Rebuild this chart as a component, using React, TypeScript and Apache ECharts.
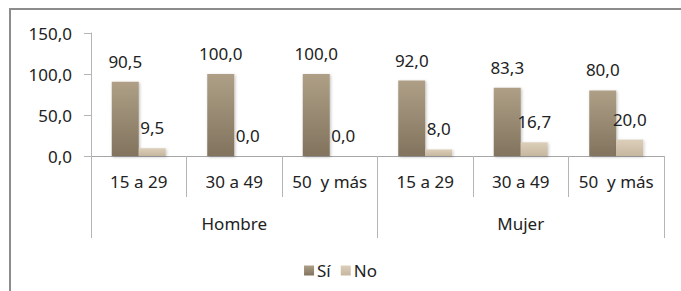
import React, { useEffect, useRef } from "react";
import * as echarts from "echarts";

const categories = ["15 a 29", "30 a 49", "50  y más", "15 a 29", "30 a 49", "50  y más"];
const groups = ["Hombre", "Mujer"];
const siValues = [90.5, 100.0, 100.0, 92.0, 83.3, 80.0];
const noValues = [9.5, 0.0, 0.0, 8.0, 16.7, 20.0];
const seriesNames = ["Sí", "No"];

const FONT = "Noto Sans";
const FS = 17;
const fmt = (v: number) => v.toFixed(1).replace(".", ",");

export default function App() {
  const ref = useRef<HTMLDivElement>(null);
  useEffect(() => {
    if (!ref.current) return;
    const chart = echarts.init(ref.current, undefined, { renderer: "svg" });
    const siColor = new echarts.graphic.LinearGradient(0, 0, 0, 1, [
      { offset: 0, color: "#ae9f86" },
      { offset: 1, color: "#82735e" },
    ]);
    const noColor = new echarts.graphic.LinearGradient(0, 0, 0, 1, [
      { offset: 0, color: "#dccfb9" },
      { offset: 1, color: "#c6b79f" },
    ]);
    const labelStyle = {
      show: true,
      position: "top" as const,
      distance: 12,
      fontFamily: FONT,
      fontSize: FS,
      color: "#222",
      formatter: (p: any) => fmt(p.value),
    };
    chart.setOption({
      animation: false,
      backgroundColor: "#fff",
      textStyle: { fontFamily: FONT },
      graphic: [
        {
          type: "rect",
          shape: { x: 10, y: 9, width: 720, height: 320 },
          style: { fill: "none", stroke: "#8c8c8c", lineWidth: 2 },
          silent: true,
        },
      ],
      legend: {
        data: seriesNames,
        left: "center",
        top: 257,
        itemWidth: 10,
        itemHeight: 10,
        itemGap: 10,
        icon: "rect",
        textStyle: { fontFamily: FONT, fontSize: FS, color: "#222", padding: [0, 0, 0, -2] },
      },
      grid: { left: 91, right: 17, top: 33, bottom: 135 },
      xAxis: [
        {
          type: "category",
          data: categories,
          position: "bottom",
          axisLine: { show: true, lineStyle: { color: "#a6a6a6" } },
          axisTick: { show: true, length: 41, interval: 0, lineStyle: { color: "#b5b5b5" } },
          axisLabel: { interval: 0, margin: 17, fontFamily: FONT, fontSize: FS, color: "#222" },
        },
        {
          type: "category",
          data: groups,
          position: "bottom",
          axisLine: { show: false },
          axisTick: { show: true, length: 82, interval: 0, lineStyle: { color: "#b5b5b5" } },
          axisLabel: { interval: 0, margin: 59, fontFamily: FONT, fontSize: FS, color: "#222" },
        },
      ],
      yAxis: {
        type: "value",
        min: 0,
        max: 150,
        interval: 50,
        axisLine: { show: true, lineStyle: { color: "#b5b5b5" } },
        axisTick: { show: true, length: 7, lineStyle: { color: "#b5b5b5" } },
        splitLine: { show: false },
        axisLabel: {
          margin: 19,
          fontFamily: FONT,
          fontSize: FS,
          color: "#222",
          formatter: (v: number) => fmt(v),
        },
      },
      series: [
        {
          name: seriesNames[0],
          type: "bar",
          xAxisIndex: 0,
          data: siValues,
          barWidth: 27,
          barGap: "0%",
          itemStyle: {
            color: siColor,
            shadowColor: "rgba(0,0,0,0.25)",
            shadowBlur: 3,
            shadowOffsetX: 1,
            shadowOffsetY: 1,
          },
          label: labelStyle,
        },
        {
          name: seriesNames[1],
          type: "bar",
          xAxisIndex: 0,
          data: noValues,
          barWidth: 27,
          barGap: "0%",
          itemStyle: {
            color: noColor,
            shadowColor: "rgba(0,0,0,0.2)",
            shadowBlur: 3,
            shadowOffsetX: 1,
            shadowOffsetY: 1,
          },
          label: labelStyle,
        },
      ],
    });
    return () => chart.dispose();
  }, []);
  return (
    <div
      ref={ref}
      style={{ position: "fixed", left: 0, top: 0, width: 681, height: 291 }}
    />
  );
}
